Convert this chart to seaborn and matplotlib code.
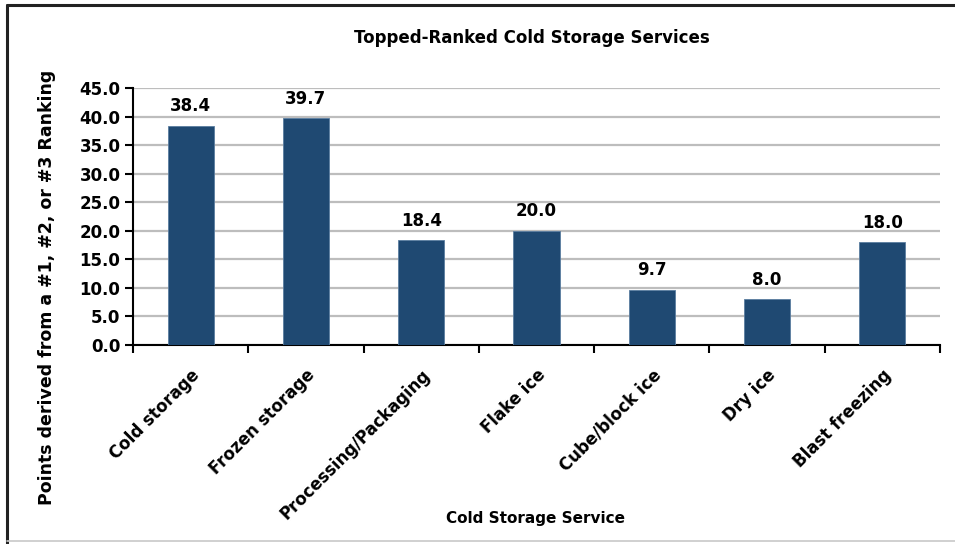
import numpy as np
import pandas as pd
import matplotlib as mpl
mpl.use("Agg")
import matplotlib.pyplot as plt
import seaborn as sns
from matplotlib.lines import Line2D

services = ["Cold storage", "Frozen storage", "Processing/Packaging", "Flake ice",
            "Cube/block ice", "Dry ice", "Blast freezing"]
points = [38.4, 39.7, 18.4, 20.0, 9.7, 8.0, 18.0]
yticks = [0.0, 5.0, 10.0, 15.0, 20.0, 25.0, 30.0, 35.0, 40.0, 45.0]

dat = pd.DataFrame({"service": services, "points": points})

sns.set_style("white")
plt.rcParams['font.family'] = ['DejaVu Sans']
plt.rcParams['font.weight'] = 'bold'
plt.rcParams['text.color'] = 'black'
plt.rcParams['xtick.color'] = 'black'
plt.rcParams['ytick.color'] = 'black'

fig = plt.figure(figsize=(9.55, 5.44), dpi=100)
ax = fig.add_axes([133/955, 1 - 345/544, (940 - 133)/955, (345 - 88)/544])

sns.barplot(data=dat, x="service", y="points", color="#1F4972", width=0.4,
            saturation=1, edgecolor="#5A7DA0", linewidth=0.6, ax=ax, zorder=3)

for i, v in enumerate(points):
    ax.text(i, v + 1.8, f"{v:.1f}", ha="center", va="bottom",
            fontsize=12, fontweight="bold", color="black")

ax.set_ylim(0, 45)
ax.set_xlim(-0.5, len(services) - 0.5)
ax.set_yticks(yticks)
ax.set_yticklabels([f"{t:.1f}" for t in yticks], fontsize=12, fontweight="bold")
ax.yaxis.grid(True, color="#BDBDBD", linewidth=1.6, zorder=0)
ax.set_axisbelow(True)

ax.set_xticks(range(len(services)))
ax.set_xticklabels(services, rotation=45, ha="right", rotation_mode="anchor",
                   fontsize=12, fontweight="bold")
ax.tick_params(axis="x", which="major", length=0, pad=15)
ax.set_xticks(np.arange(-0.5, len(services), 1.0), minor=True)
ax.tick_params(axis="x", which="minor", length=6, width=1.5, direction="out",
               color="black", bottom=True)
ax.tick_params(axis="y", length=6, width=1.5, direction="out", color="black",
               left=True, pad=3)

for s in ["top", "right"]:
    ax.spines[s].set_visible(False)
for s in ["left", "bottom"]:
    ax.spines[s].set_color("black")
    ax.spines[s].set_linewidth(1.5)

ax.set_xlabel("")
ax.set_ylabel("")
fig.text(532/955, 1 - 38/544, "Topped-Ranked Cold Storage Services",
         ha="center", va="center", fontsize=12, fontweight="bold")
fig.text(536/955, 1 - 518/544, "Cold Storage Service",
         ha="center", va="center", fontsize=11, fontweight="bold")
fig.text(47/955, 1 - 287/544, "Points derived from a #1, #2, or #3 Ranking",
         ha="center", va="center", rotation=90, fontsize=12.5, fontweight="bold")

# outer chart frame
fig.add_artist(Line2D([7/955, 7/955], [0, 1 - 5/544], transform=fig.transFigure,
                      color="#222222", linewidth=2.2))
fig.add_artist(Line2D([7/955, 1], [1 - 5/544, 1 - 5/544], transform=fig.transFigure,
                      color="#222222", linewidth=2.2))
fig.add_artist(Line2D([7/955, 1], [1 - 541/544, 1 - 541/544], transform=fig.transFigure,
                      color="#C8C8C8", linewidth=1.2))

fig.savefig("out.png", dpi=100)
